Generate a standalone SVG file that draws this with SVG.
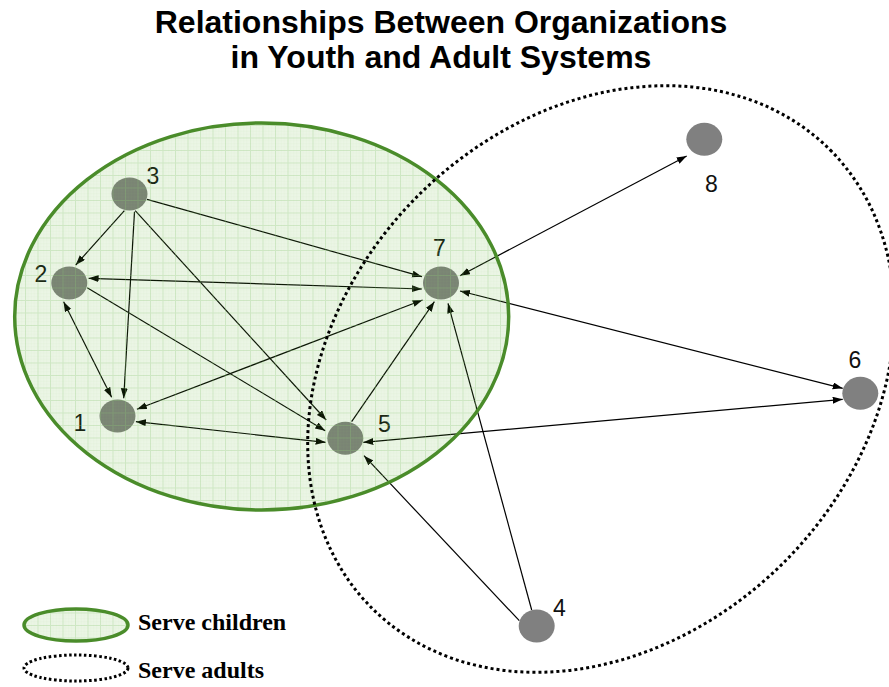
<svg xmlns="http://www.w3.org/2000/svg" width="889" height="687" viewBox="0 0 889 687">
<style>
.title{font-family:"Liberation Sans",Arial,sans-serif;font-weight:bold;font-size:32px;fill:#000;text-anchor:middle}
.lbl{font-family:"Liberation Sans",Arial,sans-serif;font-size:23px;fill:#111;text-anchor:middle}
.leg{font-family:"Liberation Serif","Times New Roman",serif;font-weight:bold;font-size:24px;fill:#000}
.node{fill:#808080}
.edge{stroke:#000;stroke-width:1.2;fill:none}
.one{marker-end:url(#ah)}
.two{marker-end:url(#ah);marker-start:url(#ahs)}
.tint{fill:url(#grid)}
.gstroke{fill:none;stroke:#4a8c2a;stroke-width:3.5}
.dots{fill:none;stroke:#000;stroke-width:3;stroke-dasharray:3 3}
</style>
<defs>
<marker id="ah" markerUnits="userSpaceOnUse" markerWidth="11" markerHeight="8" refX="10" refY="3.5" orient="auto"><path d="M0,0 L10,3.5 L0,7 z" fill="#000"/></marker>
<marker id="ahs" markerUnits="userSpaceOnUse" markerWidth="11" markerHeight="8" refX="10" refY="3.5" orient="auto-start-reverse"><path d="M0,0 L10,3.5 L0,7 z" fill="#000"/></marker>
<pattern id="grid" patternUnits="userSpaceOnUse" width="12.5" height="12.5">
<rect width="12.5" height="12.5" fill="rgb(72,163,22)" fill-opacity="0.11"/>
<path d="M0 3.1 H12.5 M0 6.25 H12.5 M0 9.4 H12.5 M3.1 0 V12.5 M6.25 0 V12.5 M9.4 0 V12.5" stroke="#8cc878" stroke-opacity="0.07" stroke-width="0.6"/>
<path d="M0 0.5 H12.5 M0.5 0 V12.5" stroke="#8cc878" stroke-opacity="0.3" stroke-width="1"/>
</pattern>
</defs>

<text class="title" x="441" y="33">Relationships Between Organizations</text>
<text class="title" x="441" y="68">in Youth and Adult Systems</text>

<g id="connectors">
<line class="edge one" x1="124.4" y1="210.7" x2="75.7" y2="265"/>
<line class="edge one" x1="134.5" y1="211.7" x2="123.7" y2="398.3"/>
<line class="edge one" x1="147" y1="199.3" x2="422" y2="276.7"/>
<line class="edge one" x1="135.2" y1="210.7" x2="326.2" y2="420"/>
<line class="edge two" x1="88.6" y1="278.3" x2="421.9" y2="289"/>
<line class="edge two" x1="63.6" y1="301.7" x2="111.6" y2="397.3"/>
<line class="edge one" x1="87.2" y1="287.7" x2="325.2" y2="430.7"/>
<line class="edge two" x1="136.9" y1="409.3" x2="422.6" y2="300"/>
<line class="edge two" x1="135.9" y1="421.7" x2="325.6" y2="442.3"/>
<line class="edge one" x1="351.6" y1="421.7" x2="434.4" y2="301.7"/>
<line class="edge one" x1="531.7" y1="610" x2="448" y2="303.3"/>
<line class="edge one" x1="519.3" y1="620.7" x2="364" y2="455.7"/>
<line class="edge two" x1="460" y1="275.7" x2="686.7" y2="156"/>
<line class="edge two" x1="460" y1="291" x2="842.7" y2="388.3"/>
<line class="edge two" x1="363.3" y1="442.3" x2="842.7" y2="399.3"/>
</g>

<g id="node-1"><ellipse class="node" cx="117.5" cy="416" rx="18" ry="16.5"/><text class="lbl" x="80" y="431">1</text></g>
<g id="node-2"><ellipse class="node" cx="69.3" cy="283" rx="18" ry="16.5"/><text class="lbl" x="41" y="282">2</text></g>
<g id="node-3"><ellipse class="node" cx="129.5" cy="194" rx="18" ry="16.5"/><text class="lbl" x="153" y="184">3</text></g>
<g id="node-4"><ellipse class="node" cx="536.7" cy="626" rx="18" ry="16.5"/><text class="lbl" x="559.5" y="616">4</text></g>
<g id="node-5"><ellipse class="node" cx="345.3" cy="438.3" rx="18" ry="16.5"/><text class="lbl" x="384.5" y="432">5</text></g>
<g id="node-6"><ellipse class="node" cx="860.3" cy="393.3" rx="18" ry="16.5"/><text class="lbl" x="855" y="368">6</text></g>
<g id="node-7"><ellipse class="node" cx="441" cy="283" rx="18" ry="16.5"/><text class="lbl" x="439.5" y="256">7</text></g>
<g id="node-8"><ellipse class="node" cx="704.3" cy="139.3" rx="18" ry="16.5"/><text class="lbl" x="711.5" y="192">8</text></g>

<g id="serve-children">
<ellipse class="tint" cx="261.7" cy="316.5" rx="247" ry="193.5"/>
<ellipse class="gstroke" cx="261.7" cy="316.5" rx="247" ry="193.5"/>
</g>
<g id="serve-adults">
<ellipse class="dots" cx="601" cy="379" rx="324" ry="259" transform="rotate(-45 601 379)"/>
</g>

<g id="legend">
<ellipse class="tint" cx="76" cy="625" rx="52" ry="16"/>
<ellipse class="gstroke" cx="76" cy="625" rx="52" ry="16"/>
<text class="leg" x="138" y="630">Serve children</text>
<ellipse class="dots" cx="76" cy="668" rx="52" ry="13" style="stroke-width:3;stroke-dasharray:2.5 2.5"/>
<text class="leg" x="138" y="678">Serve adults</text>
</g>
</svg>
